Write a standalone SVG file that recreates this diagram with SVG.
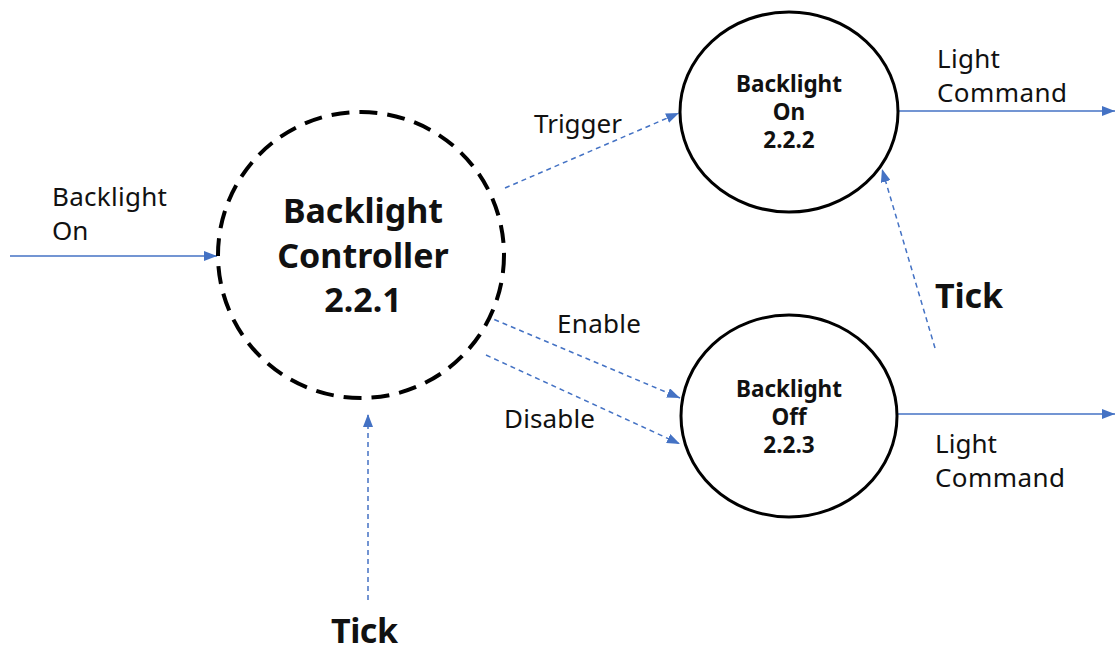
<svg xmlns="http://www.w3.org/2000/svg" width="1115" height="651" viewBox="0 0 1115 651">
<style>
.node{fill:#fff;stroke:#000;stroke-width:3}
.dash{stroke-dasharray:18 10;stroke-width:4}
.flow{fill:none;stroke:#4472C4;stroke-width:1.5}
.flow.d{stroke-dasharray:5 4}
.lbl{font-family:"Noto Sans","Liberation Sans",sans-serif;font-size:26px;fill:#111}
.nt{font-family:"Noto Sans","Liberation Sans",sans-serif;font-weight:bold;fill:#111;text-anchor:middle}
.big{font-size:34px}
.sm{font-size:22.5px}
.tick{font-family:"Noto Sans","Liberation Sans",sans-serif;font-weight:bold;font-size:34px;fill:#111}
</style>
<defs>
<marker id="ah" markerUnits="userSpaceOnUse" markerWidth="13" markerHeight="10" refX="13" refY="5" orient="auto">
<path d="M0,0 L13,5 L0,10 z" fill="#4472C4"/>
</marker>
</defs>
<rect width="1115" height="651" fill="#fff"/>
<g id="connectors">
<line class="flow" x1="10" y1="256" x2="217" y2="256" marker-end="url(#ah)"/>
<line class="flow d" x1="505" y1="188" x2="679" y2="113" marker-end="url(#ah)"/>
<line class="flow d" x1="486" y1="316" x2="680" y2="398" marker-end="url(#ah)"/>
<line class="flow d" x1="486" y1="355" x2="680" y2="444" marker-end="url(#ah)"/>
<line class="flow d" x1="368" y1="600" x2="368" y2="414" marker-end="url(#ah)"/>
<line class="flow d" x1="935" y1="348" x2="882" y2="169" marker-end="url(#ah)"/>
<line class="flow" x1="898" y1="111" x2="1115" y2="111" marker-end="url(#ah)"/>
<line class="flow" x1="898" y1="414" x2="1115" y2="414" marker-end="url(#ah)"/>
<text class="lbl" x="52" y="206" textLength="115">Backlight</text>
<text class="lbl" x="52" y="240">On</text>
<text class="lbl" x="534" y="133" textLength="88">Trigger</text>
<text class="lbl" x="557" y="333" textLength="84">Enable</text>
<text class="lbl" x="504" y="428" textLength="91">Disable</text>
<text class="lbl" x="937" y="68" textLength="63">Light</text>
<text class="lbl" x="937" y="102" textLength="130">Command</text>
<text class="lbl" x="935" y="453" textLength="62">Light</text>
<text class="lbl" x="935" y="487" textLength="130">Command</text>
<text class="tick" x="331" y="643" textLength="67">Tick</text>
<text class="tick" x="935" y="308" textLength="68">Tick</text>
</g>
<g id="controller">
<circle class="node dash" cx="361" cy="255" r="143"/>
<text class="nt big" x="363" y="223">Backlight</text>
<text class="nt big" x="363" y="268">Controller</text>
<text class="nt big" x="363" y="312">2.2.1</text>
</g>
<g id="backlight-on">
<ellipse class="node" cx="789" cy="112" rx="109" ry="100"/>
<text class="nt sm" x="789" y="92">Backlight</text>
<text class="nt sm" x="789" y="120">On</text>
<text class="nt sm" x="789" y="148">2.2.2</text>
</g>
<g id="backlight-off">
<ellipse class="node" cx="789" cy="416" rx="108" ry="101"/>
<text class="nt sm" x="789" y="397">Backlight</text>
<text class="nt sm" x="789" y="425">Off</text>
<text class="nt sm" x="789" y="453">2.2.3</text>
</g>
</svg>
